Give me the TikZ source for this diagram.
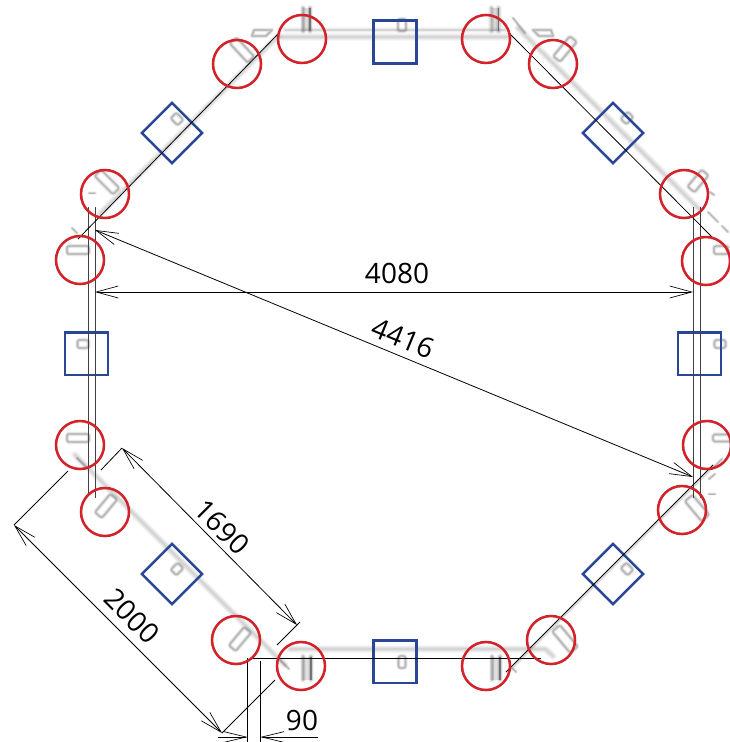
\documentclass[tikz,border=0pt]{standalone}
\usepackage{fontspec}
\setmainfont{Open Sans}
\usetikzlibrary{arrows.meta}
\definecolor{ringred}{HTML}{D2232A}
\definecolor{boxblue}{HTML}{2A4795}
\definecolor{wallgrey}{HTML}{6E6E6E}
\newcommand{\softpath}[2][1]{%
  \draw[wallgrey,line width=#1*3.6pt,opacity=.07,line cap=round,line join=round] #2;
  \draw[wallgrey,line width=#1*2.6pt,opacity=.12,line cap=round,line join=round] #2;
  \draw[wallgrey,line width=#1*1.7pt,opacity=.16,line cap=round,line join=round] #2;
  \draw[wallgrey,line width=#1*.9pt,opacity=.26,line cap=round,line join=round] #2;
}
\newcommand{\softwall}[2][1]{%
  \draw[wallgrey,line width=#1*4pt,opacity=.05,line cap=round,line join=round] #2;
  \draw[wallgrey,line width=#1*3pt,opacity=.07,line cap=round,line join=round] #2;
  \draw[wallgrey,line width=#1*2pt,opacity=.09,line cap=round,line join=round] #2;
  \draw[wallgrey,line width=#1*1pt,opacity=.10,line cap=round,line join=round] #2;
}
\newcommand{\slotmark}[6][1]{%
  \begin{scope}[shift={(#2,#3)},rotate=#4]
    \softpath[#1]{[rounded corners=1.6pt] (-#5/2,-#6/2) rectangle (#5/2,#6/2)}
  \end{scope}}
\newcommand{\tickmark}[4]{\softpath[.8]{(#1,#2) -- (#3,#4)}}
% a dark vertical bar pair: x, y, half-height, half-gap
\newcommand{\barpair}[4]{%
  \fill[wallgrey,opacity=.22] (#1-#4,#2-#3) rectangle (#1+#4,#2+#3);
  \softpath[1.4]{(#1-#4,#2-#3) -- (#1-#4,#2+#3)}
  \softpath[1.4]{(#1+#4,#2-#3) -- (#1+#4,#2+#3)}
  \draw[black!70,line width=1pt,opacity=.6] (#1+#4,#2-#3) -- (#1+#4,#2+#3);}
\tikzset{
  x=.75pt,y=-.75pt,
  ring/.style={draw=ringred,line width=1.9pt,circle,minimum size=36pt,inner sep=0pt,outer sep=0pt},
  frame/.style={draw=boxblue,line width=1.8pt,rectangle,minimum size=32pt,inner sep=0pt,outer sep=0pt},
  wallline/.style={black!75,line width=.75pt},
  thinline/.style={black,line width=.6pt},
  dimline/.style={black,line width=.6pt,{Straight Barb[length=16.5pt,width=9pt,line width=.5pt]}-{Straight Barb[length=16.5pt,width=9pt,line width=.5pt]}},
  dimlabel/.style={font=\fontsize{21pt}{21pt}\selectfont,inner sep=0pt,text=black},
}
\begin{document}
\begin{tikzpicture}
\useasboundingbox (0,0) rectangle (730,742);
\fill[white] (0,0) rectangle (730,742);
% grey background plan: walls
\softwall[1.0]{(285,30) -- (505,30)}
\softwall[1.5]{(280,37) -- (510,37)}
\softwall[1.5]{(518,28) -- (700,210)}
\softwall[1.5]{(75,455) -- (285,665)}
\softwall[1.5]{(290,649) -- (545,649) -- (553,656)}
\softwall[1.5]{(100,214) -- (278,36)}
\softwall[.7]{(508,672) -- (714,466)}
% grey background plan: slots
\barpair{306.5}{19.5}{11.5}{3.5}
\slotmark{402}{25}{90}{12}{8}
\barpair{495}{19.5}{11.5}{3.5}
\slotmark{242}{50}{-47}{26}{9}
\slotmark{565}{49}{50}{26}{9}
\slotmark{177}{119}{-45}{10}{8}
\slotmark{627}{118}{45}{10}{8}
\slotmark{107}{182}{-45}{26}{9}
\slotmark{698}{181}{50}{22}{9}
\slotmark{78}{250}{0}{22}{8}
\slotmark{721}{250}{0}{14}{8}
\slotmark{83}{344}{0}{11}{8}
\slotmark{720}{344}{0}{11}{8}
\slotmark{78}{438}{0}{22}{8}
\slotmark{722}{438}{0}{18}{7}
\slotmark{106}{506}{50}{24}{9}
\slotmark{177}{569}{45}{10}{8}
\slotmark{240}{639}{50}{24}{9}
\barpair{307}{668}{11.5}{4}
\slotmark{402}{662}{90}{12}{7}
\barpair{496}{668}{11.5}{4}
\slotmark{565}{639}{-50}{28}{10}
\slotmark{627}{569}{-45}{10}{8}
\slotmark{697}{508}{-50}{26}{10}
\begin{scope}[shift={(262,33)}]\softpath{(-10,3) -- (-8,-3) -- (10,-3) -- (4,3) -- cycle}\end{scope}
\begin{scope}[shift={(543,33)}]\softpath{(-10,-3) -- (8,-3) -- (10,3) -- (-4,3) -- cycle}\end{scope}
\tickmark{513}{18}{525}{33}
\tickmark{89}{193}{95}{193}
\tickmark{72}{228}{77}{233}
\tickmark{710}{192}{714}{195}
\tickmark{708}{212}{718}{222}
\tickmark{722}{226}{728}{232}
\tickmark{709}{479}{715}{474}
\tickmark{709}{494}{715}{494}
\tickmark{715}{466}{722}{459}
\tickmark{77}{458}{86}{467}
\tickmark{280}{660}{289}{669}
\tickmark{512}{668}{516}{672}

% frames around features
\node[frame] (s1) at (395,42) {};
\node[frame] (s2) at (613,133) [rotate=45] {};
\node[frame] (s3) at (699.6,353.8) {};
\node[frame] (s4) at (613,574) [rotate=45] {};
\node[frame] (s5) at (395,661.8) {};
\node[frame] (s6) at (172,574) [rotate=45] {};
\node[frame] (s7) at (86.6,353.8) {};
\node[frame] (s8) at (172,133) [rotate=45] {};

% named points for the wall outline and dimensions
\coordinate (la) at (88,207);  \coordinate (lb) at (88,495);
\coordinate (lc) at (95.5,207);\coordinate (ld) at (95.5,498);
\coordinate (ra) at (693,207); \coordinate (rb) at (693,498);
\coordinate (rc) at (700,207); \coordinate (rd) at (700,498);
\coordinate (ula) at (78,239); \coordinate (ulb) at (278,34);
\coordinate (ura) at (510,34); \coordinate (urb) at (712,237);
\coordinate (lra) at (506,672);\coordinate (lrb) at (713,465);
\coordinate (boa) at (250,658);\coordinate (bob) at (541,658);
\coordinate (w1) at (95,292);  \coordinate (w2) at (693,292);
\coordinate (d1) at (95,230);  \coordinate (d2) at (693,477);
\coordinate (e1) at (68,471);  \coordinate (e2) at (14,525);
\coordinate (e3) at (275,680); \coordinate (e4) at (222,733);
\coordinate (f1) at (101,470); \coordinate (f2) at (122,448);
\coordinate (f3) at (277,645); \coordinate (f4) at (300,622);
\coordinate (f5) at (297,625);
\coordinate (g1) at (247.5,658); \coordinate (g2) at (247.5,742);
\coordinate (g3) at (260.5,661); \coordinate (g4) at (260.5,742);
\coordinate (h1) at (218,737); \coordinate (h2) at (247.5,737);
\coordinate (h3) at (260.5,737); \coordinate (h4) at (318,737);

% outline
\draw[wallline] (la) -- (lb);
\draw[wallline] (lc) -- (ld);
\draw[wallline] (ra) -- (rb);
\draw[wallline] (rc) -- (rd);
\draw[thinline] (ula) -- (ulb);
\draw[thinline] (ura) -- (urb);
\draw[thinline] (lra) -- (lrb);
\draw[thinline] (boa) -- (bob);
% dimensions
\draw[dimline] (w1) -- (w2);
\draw[dimline] (d1) -- (d2);
\draw[thinline] (e1) -- (e2);
\draw[thinline] (e3) -- (e4);
\draw[dimline] (e2) -- (e4);
\draw[thinline] (f1) -- (f2);
\draw[thinline] (f3) -- (f4);
\draw[dimline] (f2) -- (f5);
\draw[thinline] (g1) -- (g2);
\draw[thinline] (g3) -- (g4);
\draw[thinline,-{Straight Barb[length=16.5pt,width=8pt,line width=.5pt]}] (h1) -- (h2);
\draw[thinline,-{Straight Barb[length=16.5pt,width=8pt,line width=.5pt]}] (h4) -- (h3);

% rings
\node[ring] (r1) at (302,39) {};
\node[ring] (r2) at (237,64) {};
\node[ring] (r3) at (105,194) {};
\node[ring] (r4) at (80,260) {};
\node[ring] (r5) at (80,445) {};
\node[ring] (r6) at (105,512) {};
\node[ring] (r7) at (236,640) {};
\node[ring] (r8) at (301,666) {};
\node[ring] (r9) at (486,666) {};
\node[ring] (r10) at (551,640) {};
\node[ring] (r11) at (682,510) {};
\node[ring] (r12) at (707,445) {};
\node[ring] (r13) at (706,261) {};
\node[ring] (r14) at (684,194) {};
\node[ring] (r15) at (553,64) {};
\node[ring] (r16) at (486,39) {};

% labels
\node[dimlabel] (t1) at (397,273) {4080};
\node[dimlabel,rotate=-22.4] (t2) at (403,338) {4416};
\node[dimlabel,rotate=-45] (t3) at (222,527) {1690};
\node[dimlabel,rotate=-45] (t4) at (132,616) {2000};
\node[dimlabel] (t5) at (302,720) {90};
\end{tikzpicture}
\end{document}
